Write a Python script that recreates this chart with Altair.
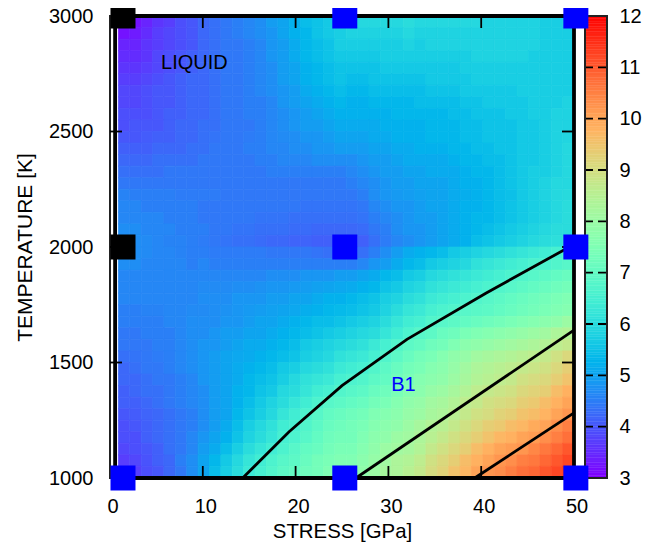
import math
import altair as alt
import pandas as pd

HEAT_ROWS = [
[3.1,3.2,3.4,3.6,3.7,3.9,4.0,4.2,4.3,4.4,4.5,4.6,4.7,4.9,5.0,5.2,5.4,5.5,5.6,5.8,5.9,5.9,5.9,5.9,5.9,6.0,5.9,5.9,5.9,5.9,5.9,5.9,5.8,5.8,5.8,5.8,5.8,5.7,5.7,5.7],
[3.2,3.3,3.5,3.7,3.8,3.9,4.0,4.2,4.3,4.4,4.5,4.6,4.7,4.8,5.0,5.2,5.3,5.5,5.6,5.7,5.8,5.8,5.8,5.8,5.8,5.9,5.8,5.8,5.8,5.8,5.8,5.8,5.8,5.8,5.8,5.8,5.8,5.7,5.7,5.7],
[3.4,3.4,3.6,3.7,3.8,3.9,4.0,4.2,4.3,4.4,4.4,4.5,4.6,4.8,4.9,5.1,5.3,5.4,5.5,5.7,5.7,5.7,5.7,5.7,5.7,5.8,5.7,5.8,5.8,5.8,5.8,5.8,5.8,5.8,5.8,5.8,5.8,5.7,5.7,5.7],
[3.5,3.5,3.6,3.8,3.9,4.0,4.1,4.2,4.3,4.4,4.4,4.5,4.6,4.8,4.9,5.1,5.3,5.4,5.5,5.6,5.6,5.6,5.6,5.7,5.7,5.7,5.7,5.7,5.7,5.7,5.7,5.8,5.8,5.8,5.8,5.8,5.7,5.7,5.7,5.7],
[3.6,3.6,3.7,3.8,3.9,4.0,4.1,4.2,4.3,4.4,4.4,4.5,4.6,4.7,4.9,5.0,5.2,5.3,5.4,5.5,5.5,5.5,5.5,5.6,5.6,5.6,5.6,5.6,5.6,5.6,5.7,5.7,5.7,5.7,5.7,5.7,5.7,5.7,5.7,5.7],
[3.7,3.7,3.8,3.9,4.0,4.1,4.2,4.2,4.3,4.4,4.4,4.5,4.6,4.7,4.9,5.0,5.2,5.3,5.4,5.5,5.4,5.4,5.5,5.5,5.5,5.5,5.5,5.6,5.6,5.6,5.6,5.7,5.7,5.7,5.7,5.7,5.7,5.7,5.7,5.7],
[3.8,3.8,3.9,4.0,4.0,4.1,4.2,4.2,4.3,4.4,4.4,4.5,4.6,4.7,4.8,4.9,5.1,5.2,5.3,5.4,5.3,5.3,5.4,5.4,5.4,5.4,5.4,5.5,5.5,5.5,5.6,5.6,5.6,5.6,5.6,5.7,5.7,5.7,5.7,5.7],
[3.8,3.8,3.9,4.0,4.0,4.1,4.2,4.2,4.3,4.4,4.4,4.5,4.5,4.6,4.8,4.9,5.0,5.1,5.2,5.3,5.2,5.2,5.3,5.3,5.3,5.3,5.4,5.4,5.4,5.4,5.5,5.5,5.6,5.6,5.6,5.6,5.7,5.7,5.7,5.8],
[3.9,3.9,3.9,4.0,4.1,4.1,4.2,4.2,4.3,4.4,4.4,4.5,4.5,4.6,4.7,4.8,4.9,5.0,5.1,5.2,5.2,5.2,5.2,5.2,5.3,5.3,5.3,5.3,5.3,5.4,5.4,5.5,5.5,5.5,5.6,5.6,5.7,5.7,5.8,5.8],
[3.9,4.0,4.0,4.0,4.1,4.2,4.2,4.3,4.3,4.4,4.4,4.4,4.5,4.6,4.7,4.8,4.9,4.9,5.0,5.1,5.1,5.1,5.1,5.2,5.2,5.2,5.2,5.3,5.3,5.3,5.4,5.4,5.5,5.5,5.5,5.6,5.6,5.7,5.8,5.8],
[4.0,4.0,4.05,4.1,4.1,4.2,4.2,4.3,4.35,4.4,4.4,4.45,4.5,4.6,4.65,4.7,4.8,4.8,4.9,5.0,5.0,5.0,5.1,5.1,5.2,5.2,5.2,5.3,5.3,5.3,5.4,5.4,5.5,5.5,5.5,5.6,5.6,5.7,5.8,5.85],
[4.1,4.1,4.1,4.2,4.2,4.2,4.3,4.3,4.4,4.4,4.4,4.5,4.5,4.6,4.6,4.7,4.7,4.8,4.8,4.9,4.9,4.9,5.0,5.0,5.1,5.1,5.2,5.2,5.2,5.3,5.3,5.4,5.4,5.5,5.5,5.6,5.6,5.7,5.8,5.9],
[4.2,4.2,4.2,4.3,4.3,4.3,4.3,4.4,4.4,4.4,4.4,4.4,4.5,4.5,4.6,4.6,4.6,4.7,4.7,4.7,4.7,4.8,4.9,4.9,5.0,5.1,5.1,5.1,5.1,5.2,5.3,5.3,5.4,5.4,5.5,5.6,5.6,5.7,5.8,5.9],
[4.3,4.3,4.3,4.3,4.4,4.4,4.4,4.4,4.4,4.4,4.4,4.4,4.4,4.5,4.5,4.5,4.5,4.5,4.5,4.5,4.6,4.7,4.8,4.9,4.9,5.0,5.0,5.1,5.1,5.1,5.2,5.3,5.3,5.4,5.5,5.6,5.7,5.7,5.8,5.9],
[4.4,4.4,4.4,4.4,4.4,4.4,4.4,4.4,4.4,4.4,4.4,4.4,4.4,4.4,4.4,4.4,4.4,4.4,4.4,4.4,4.5,4.6,4.7,4.8,4.9,4.9,5.0,5.0,5.0,5.1,5.2,5.2,5.3,5.4,5.5,5.6,5.7,5.8,5.9,5.9],
[4.55,4.5,4.5,4.5,4.5,4.45,4.45,4.45,4.45,4.4,4.4,4.4,4.4,4.4,4.4,4.4,4.4,4.4,4.4,4.4,4.4,4.5,4.7,4.8,4.85,4.9,4.95,5.0,5.0,5.1,5.15,5.2,5.3,5.4,5.45,5.6,5.7,5.8,5.9,5.95],
[4.6,4.6,4.5,4.5,4.5,4.5,4.5,4.4,4.4,4.4,4.4,4.4,4.4,4.4,4.4,4.4,4.35,4.35,4.35,4.35,4.35,4.4,4.6,4.7,4.8,4.8,4.9,5.0,5.0,5.1,5.2,5.2,5.3,5.4,5.5,5.6,5.7,5.8,5.9,6.0],
[4.6,4.6,4.6,4.6,4.5,4.5,4.5,4.4,4.4,4.4,4.4,4.4,4.35,4.35,4.35,4.3,4.3,4.3,4.3,4.3,4.3,4.35,4.5,4.6,4.7,4.8,4.9,4.9,5.0,5.1,5.2,5.3,5.3,5.4,5.5,5.6,5.7,5.8,5.9,6.0],
[4.7,4.7,4.6,4.6,4.6,4.5,4.5,4.5,4.4,4.4,4.35,4.35,4.3,4.3,4.3,4.25,4.25,4.2,4.2,4.2,4.2,4.25,4.4,4.5,4.7,4.8,4.8,4.9,5.0,5.1,5.2,5.3,5.4,5.5,5.6,5.7,5.8,5.9,6.0,6.0],
[4.7,4.7,4.65,4.6,4.55,4.55,4.5,4.45,4.4,4.35,4.3,4.3,4.25,4.2,4.2,4.15,4.15,4.1,4.1,4.05,4.05,4.1,4.3,4.45,4.6,4.7,4.8,4.9,5.0,5.1,5.2,5.4,5.5,5.6,5.7,5.8,5.9,6.0,6.05,6.1],
[4.7,4.7,4.65,4.6,4.6,4.55,4.5,4.5,4.45,4.45,4.45,4.45,4.45,4.4,4.4,4.4,4.4,4.35,4.3,4.25,4.2,4.3,4.5,4.7,4.9,5.1,5.2,5.3,5.4,5.6,5.7,5.8,5.9,6.0,6.1,6.2,6.3,6.4,6.5,6.6],
[4.7,4.7,4.6,4.6,4.6,4.6,4.5,4.6,4.5,4.5,4.5,4.5,4.5,4.5,4.5,4.5,4.5,4.5,4.5,4.5,4.5,4.6,4.8,4.9,5.1,5.3,5.4,5.6,5.7,5.8,5.9,6.1,6.2,6.3,6.4,6.5,6.6,6.6,6.7,6.8],
[4.6,4.6,4.6,4.6,4.6,4.6,4.6,4.6,4.6,4.6,4.6,4.6,4.6,4.7,4.7,4.7,4.8,4.8,4.8,4.9,4.9,5.0,5.1,5.3,5.4,5.6,5.7,5.9,6.0,6.1,6.2,6.3,6.4,6.5,6.6,6.7,6.8,6.9,7.0,7.1],
[4.6,4.6,4.6,4.6,4.6,4.6,4.6,4.65,4.65,4.65,4.7,4.7,4.75,4.8,4.8,4.85,4.9,4.95,5.0,5.05,5.1,5.2,5.3,5.5,5.6,5.8,5.9,6.1,6.2,6.3,6.4,6.5,6.6,6.7,6.8,6.9,7.0,7.1,7.2,7.3],
[4.6,4.6,4.6,4.6,4.6,4.6,4.6,4.7,4.7,4.7,4.8,4.8,4.8,4.9,4.9,5.0,5.0,5.1,5.2,5.2,5.3,5.4,5.5,5.7,5.8,6.0,6.1,6.3,6.4,6.5,6.6,6.7,6.8,6.9,7.0,7.1,7.2,7.3,7.4,7.5],
[4.5,4.5,4.55,4.55,4.6,4.6,4.65,4.65,4.7,4.75,4.8,4.85,4.9,4.95,5.0,5.05,5.15,5.2,5.3,5.35,5.4,5.5,5.6,5.8,6.0,6.2,6.3,6.5,6.6,6.7,6.8,6.85,6.9,7.0,7.1,7.2,7.3,7.4,7.5,7.6],
[4.5,4.5,4.5,4.5,4.6,4.6,4.7,4.7,4.7,4.8,4.8,4.9,5.0,5.0,5.1,5.2,5.3,5.4,5.4,5.5,5.6,5.7,5.8,6.0,6.2,6.4,6.5,6.7,6.8,6.9,7.0,7.1,7.2,7.3,7.4,7.5,7.6,7.7,7.8,8.0],
[4.4,4.4,4.5,4.5,4.5,4.6,4.7,4.7,4.8,4.9,4.9,5.0,5.0,5.1,5.2,5.3,5.4,5.5,5.6,5.7,5.8,5.9,6.0,6.2,6.4,6.6,6.8,6.9,7.1,7.2,7.4,7.5,7.6,7.7,7.8,7.9,8.0,8.1,8.3,8.4],
[4.4,4.4,4.4,4.5,4.5,4.6,4.7,4.8,4.8,4.9,5.0,5.1,5.1,5.2,5.3,5.4,5.6,5.7,5.8,5.9,6.0,6.1,6.3,6.5,6.7,6.9,7.0,7.2,7.3,7.5,7.7,7.8,7.9,8.0,8.1,8.2,8.3,8.4,8.6,8.7],
[4.3,4.35,4.4,4.45,4.5,4.6,4.7,4.8,4.9,5.0,5.05,5.1,5.2,5.3,5.4,5.5,5.7,5.8,5.9,6.1,6.2,6.3,6.5,6.7,6.9,7.1,7.3,7.4,7.6,7.8,7.9,8.1,8.2,8.3,8.4,8.5,8.6,8.7,8.9,9.1],
[4.2,4.3,4.4,4.4,4.5,4.6,4.7,4.8,4.9,5.0,5.1,5.2,5.3,5.4,5.6,5.7,5.9,6.0,6.1,6.3,6.4,6.5,6.7,6.9,7.1,7.3,7.4,7.6,7.7,7.9,8.1,8.3,8.4,8.5,8.6,8.7,8.8,8.9,9.1,9.3],
[4.2,4.2,4.3,4.4,4.4,4.5,4.6,4.8,4.9,5.0,5.1,5.3,5.4,5.5,5.7,5.9,6.1,6.2,6.3,6.5,6.6,6.7,6.9,7.0,7.2,7.4,7.6,7.7,7.8,8.0,8.2,8.4,8.5,8.6,8.7,8.9,9.0,9.1,9.3,9.5],
[4.1,4.2,4.3,4.3,4.4,4.5,4.6,4.7,4.9,5.0,5.2,5.3,5.5,5.6,5.9,6.0,6.2,6.4,6.5,6.7,6.8,6.9,7.1,7.2,7.4,7.6,7.7,7.9,8.0,8.2,8.4,8.6,8.7,8.8,8.9,9.1,9.2,9.3,9.6,9.8],
[4.1,4.1,4.2,4.3,4.4,4.5,4.6,4.7,4.9,5.0,5.2,5.4,5.6,5.8,6.0,6.2,6.4,6.6,6.8,6.9,7.0,7.1,7.3,7.4,7.6,7.8,7.9,8.1,8.2,8.4,8.6,8.7,8.9,9.0,9.1,9.3,9.4,9.6,9.8,10.0],
[4.0,4.05,4.15,4.2,4.3,4.4,4.5,4.7,4.9,5.0,5.3,5.5,5.7,5.9,6.2,6.4,6.6,6.8,7.0,7.1,7.2,7.3,7.5,7.6,7.7,7.9,8.0,8.2,8.3,8.5,8.7,8.9,9.0,9.2,9.3,9.5,9.6,9.75,10.0,10.2],
[3.9,4.0,4.1,4.2,4.3,4.4,4.5,4.7,4.9,5.1,5.4,5.7,5.9,6.1,6.4,6.5,6.7,6.9,7.1,7.2,7.3,7.4,7.6,7.7,7.8,8.0,8.2,8.4,8.5,8.7,8.9,9.1,9.3,9.4,9.6,9.7,9.9,10.0,10.3,10.5],
[3.9,3.9,4.1,4.2,4.3,4.4,4.6,4.8,5.0,5.2,5.5,5.8,6.0,6.2,6.5,6.6,6.8,7.0,7.2,7.3,7.3,7.5,7.7,7.8,8.0,8.1,8.3,8.5,8.7,8.9,9.1,9.3,9.5,9.7,9.8,10.0,10.1,10.3,10.5,10.7],
[3.8,3.9,4.0,4.1,4.3,4.4,4.6,4.9,5.1,5.4,5.7,6.0,6.2,6.4,6.6,6.8,7.0,7.1,7.3,7.4,7.4,7.6,7.8,8.0,8.1,8.2,8.4,8.7,8.9,9.1,9.3,9.6,9.8,10.0,10.1,10.2,10.4,10.6,10.8,11.0],
[3.7,3.8,3.95,4.1,4.2,4.5,4.7,5.0,5.3,5.6,5.9,6.2,6.4,6.6,6.8,6.9,7.1,7.3,7.4,7.5,7.5,7.7,7.9,8.1,8.3,8.4,8.6,8.9,9.1,9.3,9.6,9.8,10.0,10.2,10.3,10.5,10.6,10.8,11.0,11.2],
[3.6,3.7,3.9,4.0,4.2,4.4,4.7,5.0,5.4,5.7,6.0,6.3,6.5,6.7,6.9,7.0,7.2,7.3,7.5,7.6,7.7,7.8,8.0,8.2,8.3,8.5,8.7,9.0,9.2,9.5,9.7,10.0,10.2,10.3,10.5,10.7,10.8,11.0,11.2,11.4],
]
X_START, X_STEP = 0.9, 1.2275
T_TOP, T_STEP = 3000, 50

CONTOURS = {
    "a": [(14.3, 1000), (19.3, 1200), (25, 1400), (32, 1600), (40.5, 1800), (49.5, 2000)],
    "b": [(26.5, 1000), (50, 1640)],
    "c": [(39.3, 1000), (50, 1282)],
}
BLACK_POINTS = [(1.4, 3000), (1.4, 2000)]
BLUE_POINTS = [(1.4, 1000), (25.3, 1000), (50.2, 1000), (25.3, 2000), (50.2, 2000), (25.3, 3000), (50.2, 3000)]
X_TICKS = [0, 10, 20, 30, 40, 50]
Y_TICKS = [1000, 1500, 2000, 2500, 3000]
BAR_TICKS = [3, 4, 5, 6, 7, 8, 9, 10, 11, 12]
PALETTE = []
for k in range(41):
    f = k / 40
    r = min(1, abs(2 * f - 0.5))
    g = math.sin(math.pi * f)
    b = math.cos(math.pi * f / 2)
    PALETTE.append("#%02x%02x%02x" % (round(r * 255), round(g * 255), round(b * 255)))

FONT = "Liberation Sans"
W, H, BW, GAP = 464, 462, 22, 11
TOTAL_W = W + GAP + BW
cscale = alt.Scale(domain=[3, 12], range=PALETTE, interpolate="rgb")
xs = alt.Scale(domain=[0, 50], nice=False, range=[0, W])
ys = alt.Scale(domain=[1000, 3000], nice=False)
xax = alt.Axis(values=X_TICKS, ticks=False, domain=False, grid=False, labelFontSize=20, labelFont=FONT,
               labelColor="black", labelPadding=18, labelOffset=2.5, labelAngle=0, labelFlush=False,
               title="STRESS [GPa]", titleFont=FONT, titleFontSize=20.4, titleFontWeight="normal",
               titlePadding=5, titleColor="black", titleX=232)
yax = alt.Axis(values=Y_TICKS, ticks=False, domain=False, grid=False, labelFontSize=20, labelFont=FONT,
               labelColor="black", labelPadding=17, labelFlush=False, title="TEMPERATURE [K]", format="d",
               titleFont=FONT, titleFontSize=21, titleFontWeight="normal", titlePadding=13, titleColor="black")

heat = pd.DataFrame([
    dict(x=X_START + j * X_STEP, x2=X_START + (j + 1) * X_STEP,
         t=T_TOP - i * T_STEP, t2=T_TOP - (i + 1) * T_STEP, v=v)
    for i, row in enumerate(HEAT_ROWS) for j, v in enumerate(row)
])
heat_l = alt.Chart(heat).mark_rect(strokeWidth=0.7).encode(
    x=alt.X("x:Q", scale=xs, axis=xax), x2="x2:Q",
    y=alt.Y("t:Q", scale=ys, axis=yax), y2="t2:Q",
    color=alt.Color("v:Q", scale=cscale, legend=None),
    stroke=alt.Stroke("v:Q", scale=cscale, legend=None),
)

frame = alt.Chart(pd.DataFrame([dict(x=0.55, x2=50, y=1000, y2=3000)])).mark_rect(
    fillOpacity=0, stroke="black", strokeWidth=3.8
).encode(x=alt.X("x:Q", scale=xs), x2="x2:Q", y=alt.Y("y:Q", scale=ys), y2="y2:Q")

border = alt.Chart(pd.DataFrame([dict(a=1)])).mark_rect(
    fillOpacity=0, stroke="#222222", strokeWidth=2
).encode(x=alt.value(0), x2=alt.value(W), y=alt.value(0), y2=alt.value(H))

lines = alt.Chart(pd.DataFrame([
    dict(c=c, o=n, x=p[0], y=p[1]) for c, pts in CONTOURS.items() for n, p in enumerate(pts)
])).mark_line(color="black", strokeWidth=2.8).encode(
    x=alt.X("x:Q", scale=xs), y=alt.Y("y:Q", scale=ys), detail="c:N", order="o:Q")

xt = pd.DataFrame({"x": X_TICKS[1:-1]})
yt = pd.DataFrame({"y": Y_TICKS[1:-1]})
tick_style = dict(color="black", strokeWidth=1.8)
ticks = [
    alt.Chart(xt).mark_rule(**tick_style).encode(x=alt.X("x:Q", scale=xs), y=alt.value(0), y2=alt.value(12)),
    alt.Chart(xt).mark_rule(**tick_style).encode(x=alt.X("x:Q", scale=xs), y=alt.value(H - 12), y2=alt.value(H)),
    alt.Chart(yt).mark_rule(**tick_style).encode(y=alt.Y("y:Q", scale=ys), x=alt.value(0), x2=alt.value(12)),
    alt.Chart(yt).mark_rule(**tick_style).encode(y=alt.Y("y:Q", scale=ys), x=alt.value(W - 12), x2=alt.value(W)),
]


def squares(points, colour):
    df = pd.DataFrame(points, columns=["x", "y"])
    return alt.Chart(df).mark_square(size=625, color=colour, opacity=1).encode(
        x=alt.X("x:Q", scale=xs), y=alt.Y("y:Q", scale=ys, axis=None))


def label(text, x, y, colour):
    return alt.Chart(pd.DataFrame([dict(x=x, y=y, s=text)])).mark_text(
        align="left", baseline="middle", fontSize=20, font=FONT, color=colour
    ).encode(x=alt.X("x:Q", scale=xs), y=alt.Y("y:Q", scale=ys), text="s:N")


main = alt.layer(
    heat_l, border, frame, lines, *ticks,
    label("LIQUID", 5.5, 2797, "black"), label("B1", 30.3, 1402, "#0000ff"),
)

bar_levels = [3 + k * 0.05 for k in range(180)]
bar_df = pd.DataFrame({"v": bar_levels, "v2": [b + 0.05 for b in bar_levels]})
bscale = alt.Scale(domain=[3, 12], nice=False)
bar = alt.Chart(bar_df).mark_rect(strokeWidth=0.4).encode(
    x=alt.value(W + GAP), x2=alt.value(TOTAL_W),
    y=alt.Y("v:Q", scale=bscale, axis=alt.Axis(
        orient="right", values=BAR_TICKS, ticks=False, domain=False, grid=False, title=None,
        labelFontSize=20, labelFont=FONT, labelColor="black", labelPadding=12, labelFlush=False)),
    y2="v2:Q",
    color=alt.Color("v:Q", scale=cscale, legend=None),
    stroke=alt.Stroke("v:Q", scale=cscale, legend=None),
)
bar_ticks = alt.Chart(pd.DataFrame({"v": BAR_TICKS[1:-1]})).mark_rule(
    color="black", strokeWidth=1.8, strokeDash=[8, 5]
).encode(y=alt.Y("v:Q", scale=bscale), x=alt.value(W + GAP), x2=alt.value(TOTAL_W))
bar_border = alt.Chart(pd.DataFrame([dict(a=1)])).mark_rect(
    fillOpacity=0, stroke="#222222", strokeWidth=2
).encode(x=alt.value(W + GAP), x2=alt.value(TOTAL_W), y=alt.value(0), y2=alt.value(H))
cbar = alt.layer(bar, bar_ticks, bar_border)

marks = alt.layer(squares(BLACK_POINTS, "black"), squares(BLUE_POINTS, "#0000ff"))

chart = alt.layer(main, cbar, marks).resolve_scale(y="independent").properties(
    width=TOTAL_W, height=H,
    autosize=alt.AutoSizeParams(type="none"),
    padding={"left": 102, "top": 8, "right": 36, "bottom": 68},
    background="white",
).configure_view(stroke=None)

chart.save("out.html", embed_options={"renderer": "svg", "actions": False})
